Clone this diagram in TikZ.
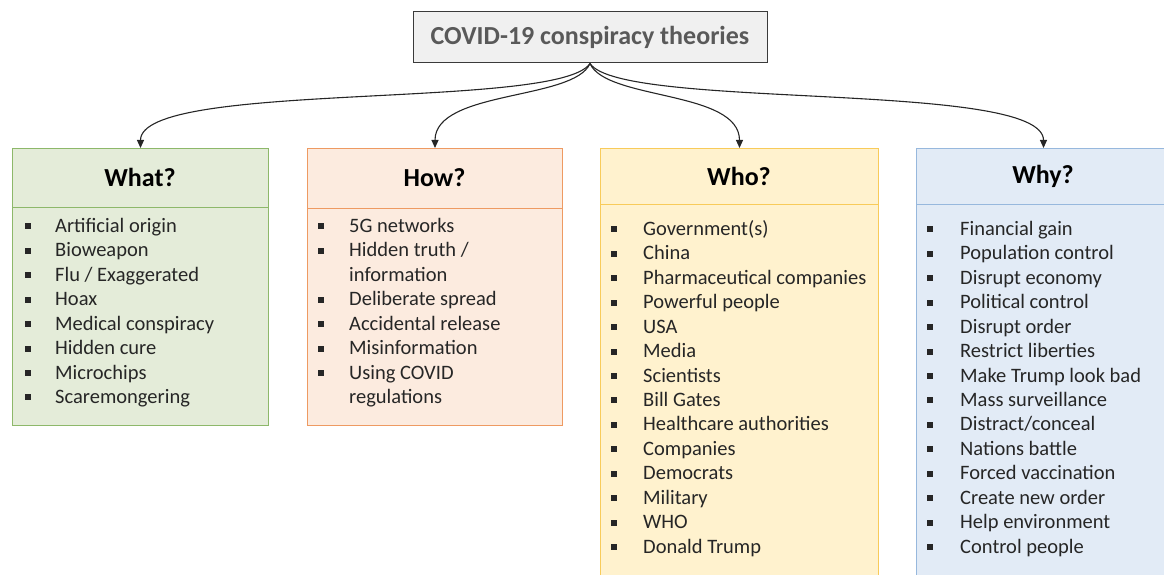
\documentclass[tikz,border=0pt]{standalone}
\usepackage{fontspec}
\setmainfont{Carlito}
\usetikzlibrary{arrows.meta}
\definecolor{greenF}{HTML}{E4ECD9}
\definecolor{greenB}{HTML}{8DB86A}
\definecolor{orangeF}{HTML}{FCEBDF}
\definecolor{orangeB}{HTML}{EE9A62}
\definecolor{yellowF}{HTML}{FFF2CE}
\definecolor{yellowB}{HTML}{F8CB5A}
\definecolor{blueF}{HTML}{E2EBF6}
\definecolor{blueB}{HTML}{97B8DD}
\definecolor{topF}{HTML}{F0F0F0}
\definecolor{topB}{HTML}{3A3A3A}
\definecolor{titleC}{HTML}{595959}
\definecolor{textC}{HTML}{262626}
\definecolor{connC}{HTML}{262626}
\newcommand\bul{\rule[3pt]{6pt}{6pt}}
\begin{document}
\begin{tikzpicture}[x=1pt,y=-1pt,
  catbox/.style={draw, line width=1pt, rectangle, inner sep=0pt, anchor=north west},
  headtxt/.style={font=\fontsize{26}{30}\selectfont\bfseries, text=black, inner sep=0pt},
  listtxt/.style={inner sep=0pt, anchor=north west, text=textC, font=\fontsize{20.5}{24.45}\selectfont},
  conn/.style={draw=connC, line width=1.1pt, -{Triangle[length=8pt,width=7pt]}}]
\useasboundingbox (0,0) rectangle (1164,575);
\clip (0,0) rectangle (1164,575);
% top
\node[draw=topB, fill=topF, line width=1pt, minimum width=354pt, minimum height=51pt, inner sep=0pt,
  font=\fontsize{26}{30}\selectfont\bfseries, text=titleC] (top) at (590,37.5) {COVID-19 conspiracy theories};
% boxes
\node[catbox, draw=greenB, fill=greenF, minimum width=256pt, minimum height=277pt] (what) at (12,148) {};
\node[catbox, draw=orangeB, fill=orangeF, minimum width=255pt, minimum height=277pt] (how) at (307,148) {};
\node[catbox, draw=yellowB, fill=yellowF, minimum width=278pt, minimum height=440pt] (who) at (600,148) {};
\node[catbox, draw=blueB, fill=blueF, minimum width=254pt, minimum height=440pt] (why) at (916,148) {};
% separators
\draw[greenB, line width=1pt] (what.west |- 0,207) -- (what.east |- 0,207);
\draw[orangeB, line width=1pt] (how.west |- 0,208) -- (how.east |- 0,208);
\draw[yellowB, line width=1pt] (who.west |- 0,204) -- (who.east |- 0,204);
\draw[blueB, line width=1pt] (why.west |- 0,204) -- (why.east |- 0,204);
% headings
\node[headtxt] (whathead) at (140,177) {What?};
\node[headtxt] (howhead) at (434.5,178) {How?};
\node[headtxt] (whohead) at (739,176) {Who?};
\node[headtxt] (whyhead) at (1043,176) {Why?};
% lists
\node[listtxt] (whatlist) at (25,215) {\begin{tabular}{@{}p{30pt}@{}l@{}}
\bul & Artificial origin\\
\bul & Bioweapon\\
\bul & Flu / Exaggerated\\
\bul & Hoax\\
\bul & Medical conspiracy\\
\bul & Hidden cure\\
\bul & Microchips\\
\bul & Scaremongering
\end{tabular}};
\node[listtxt] (howlist) at (318,215) {\begin{tabular}{@{}p{31pt}@{}l@{}}
\bul & 5G networks\\
\bul & Hidden truth /\\
     & information\\
\bul & Deliberate spread\\
\bul & Accidental release\\
\bul & Misinformation\\
\bul & Using COVID\\
     & regulations
\end{tabular}};
\node[listtxt] (wholist) at (611,218) {\begin{tabular}{@{}p{32pt}@{}l@{}}
\bul & Government(s)\\
\bul & China\\
\bul & Pharmaceutical companies\\
\bul & Powerful people\\
\bul & USA\\
\bul & Media\\
\bul & Scientists\\
\bul & Bill Gates\\
\bul & Healthcare authorities\\
\bul & Companies\\
\bul & Democrats\\
\bul & Military\\
\bul & WHO\\
\bul & Donald Trump
\end{tabular}};
\node[listtxt] (whylist) at (927,218) {\begin{tabular}{@{}p{33pt}@{}l@{}}
\bul & Financial gain\\
\bul & Population control\\
\bul & Disrupt economy\\
\bul & Political control\\
\bul & Disrupt order\\
\bul & Restrict liberties\\
\bul & Make Trump look bad\\
\bul & Mass surveillance\\
\bul & Distract/conceal\\
\bul & Nations battle\\
\bul & Forced vaccination\\
\bul & Create new order\\
\bul & Help environment\\
\bul & Control people
\end{tabular}};
% connectors
\draw[conn] (top.south) .. controls +(-31,47) and +(0,-68) .. (what.north);
\draw[conn] (top.south) .. controls +(-16,37) and +(0,-58) .. (how.north);
\draw[conn] (top.south) .. controls +(16,37) and +(0,-58) .. (who.north);
\draw[conn] (top.south) .. controls +(31,47) and +(0,-68) .. (why.north);
\end{tikzpicture}
\end{document}
